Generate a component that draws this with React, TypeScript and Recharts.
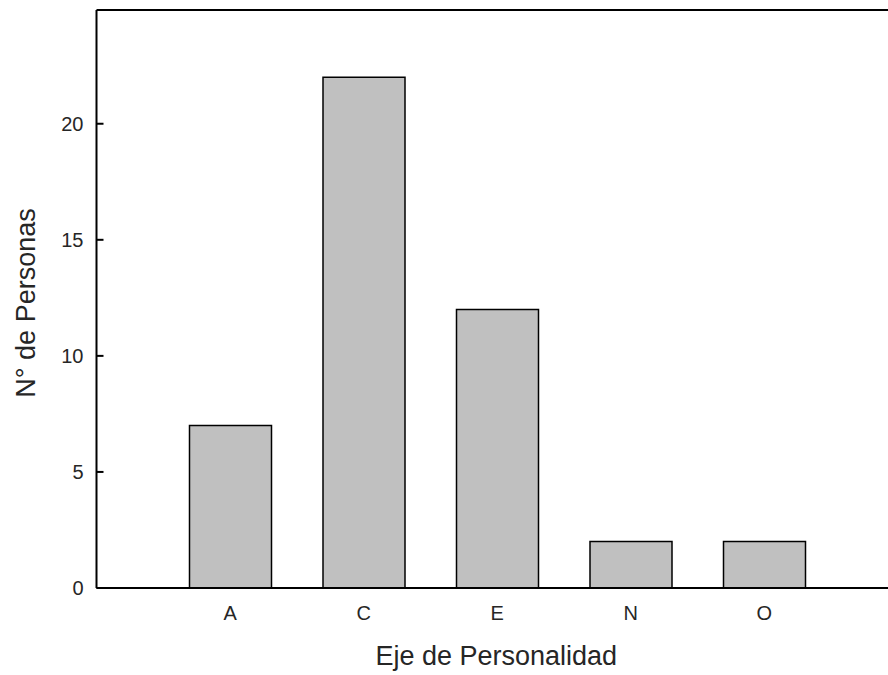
import { BarChart, Bar, XAxis, YAxis, ReferenceLine } from 'recharts'

const categories = ['A', 'C', 'E', 'N', 'O']
const personas = [7, 22, 12, 2, 2]
const yTicks = [0, 5, 10, 15, 20]
const Y_MAX = 24.9

const data = categories.map((eje, i) => ({ eje, personas: personas[i] }))

const FONT = '"Liberation Sans", Arial, sans-serif'
const TEXT = '#262626'
const TICK_MARGIN = 13

// y ticks point into the plot, so draw the little line ourselves
function YTick(props: { x?: number; y?: number; payload?: { value: number } }) {
  const { x = 0, y = 0, payload } = props
  const axisX = x + TICK_MARGIN
  return (
    <g>
      <line x1={axisX} x2={axisX + 7} y1={y} y2={y} stroke="#000" strokeWidth={2} />
      <text
        x={x}
        y={y}
        textAnchor="end"
        dominantBaseline="central"
        fontSize={20}
        fontFamily={FONT}
        fill={TEXT}
      >
        {payload?.value}
      </text>
    </g>
  )
}

function XTick(props: { x?: number; y?: number; payload?: { value: string } }) {
  const { x = 0, y = 0, payload } = props
  return (
    <text
      x={x}
      y={y + 32}
      textAnchor="middle"
      fontSize={20}
      fontFamily={FONT}
      fill={TEXT}
    >
      {payload?.value}
    </text>
  )
}

function YTitle(props: { viewBox?: { x: number; y: number; width: number; height: number } }) {
  const vb = props.viewBox
  if (!vb) return null
  const cx = vb.x + 26
  const cy = vb.y + vb.height / 2 + 4
  return (
    <text
      x={cx}
      y={cy}
      transform={`rotate(-90, ${cx}, ${cy})`}
      textAnchor="middle"
      dominantBaseline="central"
      fontSize={27}
      fontFamily={FONT}
      fill={TEXT}
    >
      N° de Personas
    </text>
  )
}

function XTitle(props: { viewBox?: { x: number; y: number; width: number; height: number } }) {
  const vb = props.viewBox
  if (!vb) return null
  return (
    <text
      x={vb.x + vb.width / 2 + 3}
      y={vb.y + 77}
      textAnchor="middle"
      fontSize={27}
      fontFamily={FONT}
      fill={TEXT}
    >
      Eje de Personalidad
    </text>
  )
}

export default function App() {
  return (
    <div
      style={{
        position: 'absolute',
        left: 0,
        top: 0,
        width: 888,
        height: 675,
        overflow: 'hidden',
        background: '#fff',
      }}
    >
      <BarChart
        width={890}
        height={675}
        data={data}
        margin={{ top: 10, right: 0, bottom: 0, left: 0 }}
      >
        <XAxis
          dataKey="eje"
          height={87}
          padding={{ left: 67, right: 59 }}
          axisLine={{ stroke: '#000', strokeWidth: 2 }}
          tickLine={false}
          tickSize={0}
          tickMargin={0}
          tick={<XTick />}
          label={<XTitle />}
        />
        <YAxis
          width={96.5}
          domain={[0, Y_MAX]}
          ticks={yTicks}
          axisLine={{ stroke: '#000', strokeWidth: 2 }}
          tickLine={false}
          tickSize={0}
          tickMargin={TICK_MARGIN}
          tick={<YTick />}
          label={<YTitle />}
        />
        <ReferenceLine y={Y_MAX} stroke="#000" strokeWidth={2} />
        <Bar
          dataKey="personas"
          fill="#c0c0c0"
          stroke="#000"
          strokeWidth={1.5}
          barSize={82}
          isAnimationActive={false}
        />
      </BarChart>
    </div>
  )
}
